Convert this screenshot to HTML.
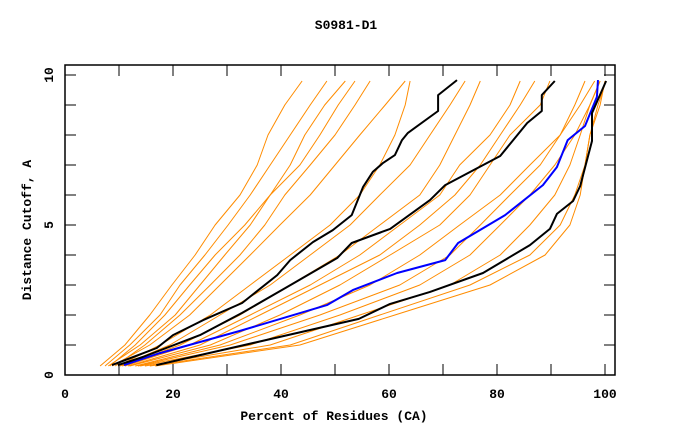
<!DOCTYPE html>
<html><head><meta charset="utf-8"><style>
body{margin:0;background:#fff}
svg text{font-family:"Liberation Mono",monospace;font-weight:bold;font-size:13px;fill:#000}
</style></head><body>
<svg id="chart" width="680" height="440" xmlns="http://www.w3.org/2000/svg">
<rect x="0" y="0" width="680" height="440" fill="#fff"/>
<text x="346" y="29" text-anchor="middle">S0981-D1</text>
<text x="334" y="420" text-anchor="middle">Percent of Residues (CA)</text>
<text transform="translate(31,230) rotate(-90)" text-anchor="middle">Distance Cutoff, A</text>
<g id="plot"></g>
<g id="axes"></g>
</svg>
<script>
const xTicks=[0,20,40,60,80,100];
const yTicks=[0,5,10];
const levels=[0.3,1,2,3,4,5,6,7,8,9,9.8];
const orange1=[6.5,11.1,15.7,19.8,24.1,27.8,32.4,35.6,37.6,40.7,43.9];
const orange2=[7.4,12,17.6,21.3,25.9,30.2,34.3,38,41.7,45.4,48.5];
const orange3=[8.3,13,18.5,23.1,27.8,33.3,38,41.7,44.4,48.1,51.9];
const orange4=[8,13.9,20.4,25,29.6,34.3,38,43.5,47.2,50.6,53.7];
const orange5=[9.3,14.8,21.3,26.9,32.4,37,40.7,45.4,50,53.7,56.5];
const orange6=[8.7,15.7,23.1,28.7,34.3,39.8,45.4,50,54.6,59.3,63];
const orange7=[9.8,17.6,26.9,34.3,41.7,49.1,54.6,58.3,61.1,63,63.9];
const orange8=[10.2,19.4,28.7,38,45.4,52.8,58.3,63.9,67.6,71.3,74.1];
const orange9=[10.6,21.3,32.4,41.7,50.9,58.3,65.7,69.4,72.2,75,76.9];
const orange10=[11.1,23.1,34.3,45.4,54.6,62,69.4,73.1,78.7,82.4,84.3];
const orange11=[11.7,25,36.1,47.2,58.3,65.7,72.2,76.9,80.6,84.3,87];
const orange12=[12,26.9,39.8,50.9,60.2,69.4,75,78.7,82.4,88,89.8];
const orange13=[13,28.7,43.5,56.5,65.7,73.1,80.6,86.1,91.7,95.4,98.1];
const orange14=[13.5,30.6,47.2,62,71.3,76.9,82.4,88,91.7,94.4,96.3];
const orange15=[13.9,34.3,50.9,65.7,75,80.6,86.1,90.7,94.4,97.2,99.1];
const orange16=[14.8,38,54.6,71.3,80.6,86.1,90.7,93.5,95.4,97.2,99.1];
const orange17=[15.7,41.7,58.3,75,86.1,91.7,94.4,96.3,97.2,99.1,100];
const orange18=[16.7,43.5,61.1,78.7,88.9,93.5,95.4,96.3,97.2,98.7,100.2];
const oranges=[orange1,orange2,orange3,orange4,orange5,orange6,orange7,orange8,orange9,orange10,orange11,orange12,orange13,orange14,orange15,orange16,orange17,orange18];
const blackAx=[8.7,17,20,25.6,32.8,39.3,41.7,45.9,49.6,53.1,55.2,57,58.9,61.1,62.4,63.5,69.1,69.1,72.6];
const blackAy=[0.33,0.9,1.33,1.83,2.4,3.33,3.83,4.43,4.83,5.33,6.27,6.77,7.07,7.33,7.83,8.07,8.8,9.33,9.83];
const blackBx=[9.8,14.4,25,32.8,41.1,50.4,53.1,60.2,67.6,70.4,80.6,83,85.6,88.3,88.3,90.7];
const blackBy=[0.33,0.6,1.33,2.07,2.93,3.9,4.4,4.87,5.83,6.33,7.3,7.83,8.4,8.8,9.33,9.8];
const blackCx=[16.9,54.4,60.2,67.6,77.4,86.1,89.8,91.1,94.1,95.4,97.6,97.6,100.2];
const blackCy=[0.33,1.87,2.37,2.77,3.4,4.33,4.87,5.37,5.8,6.3,7.8,8.73,9.8];
const blueX=[10.9,17.6,32.4,48.5,53.3,61.5,70.4,72.8,81.5,88.5,91.1,93.1,96.3,98.5,98.7];
const blueY=[0.33,0.73,1.47,2.33,2.83,3.4,3.83,4.4,5.33,6.33,6.93,7.83,8.3,9.27,9.83];

const X0=65,X1=615,Y0=375,T=65;
const sx=v=>65+v*5.4;
const sy=v=>375-v*30;
const NS="http://www.w3.org/2000/svg";
const plot=document.getElementById('plot'),axes=document.getElementById('axes');
function mk(tag,attrs,parent){const e=document.createElementNS(NS,tag);for(const k in attrs)e.setAttribute(k,attrs[k]);parent.appendChild(e);return e;}
function line(xs,ys,color,w,name){
  const pts=xs.map((x,i)=>sx(x).toFixed(1)+','+sy(ys[i]).toFixed(1)).join(' ');
  const p=mk('polyline',{points:pts,fill:'none',stroke:color,'stroke-width':w,'stroke-linejoin':'round'},plot);
  
  
}
oranges.forEach((s,i)=>line(s,levels,'#ff8c00',1,'model-line-'+(i+1)));
line(blueX,blueY,'#0000ff',2,'highlight-model-line');
line(blackAx,blackAy,'#000',2,'reference-line-a');
line(blackBx,blackBy,'#000',2,'reference-line-b');
line(blackCx,blackCy,'#000',2,'reference-line-c');

const frame=mk('rect',{x:X0,y:T,width:X1-X0,height:Y0-T,fill:'none',stroke:'#000','stroke-width':1.5},axes);


for(let v=0;v<=100;v+=10){
  const t=mk('line',{x1:sx(v),x2:sx(v),y1:Y0,y2:Y0-11,stroke:'#000','stroke-width':1},axes);
  
  
  const t2=mk('line',{x1:sx(v),x2:sx(v),y1:T,y2:T+11,stroke:'#000','stroke-width':1},axes);
  
  
}
for(let v=0;v<=10;v+=1){
  const t=mk('line',{x1:X0,x2:X0+11,y1:sy(v),y2:sy(v),stroke:'#000','stroke-width':1},axes);
  
  
  const t2=mk('line',{x1:X1,x2:X1-11,y1:sy(v),y2:sy(v),stroke:'#000','stroke-width':1},axes);
  
  
}
xTicks.forEach(v=>{
  const t=mk('text',{x:sx(v),y:398,'text-anchor':'middle'},axes);
  t.textContent=v;
  
  
});
yTicks.forEach(v=>{
  const t=mk('text',{transform:'translate(53,'+sy(v)+') rotate(-90)','text-anchor':'middle'},axes);
  t.textContent=v;
  
  
});
</script>
</body></html>
